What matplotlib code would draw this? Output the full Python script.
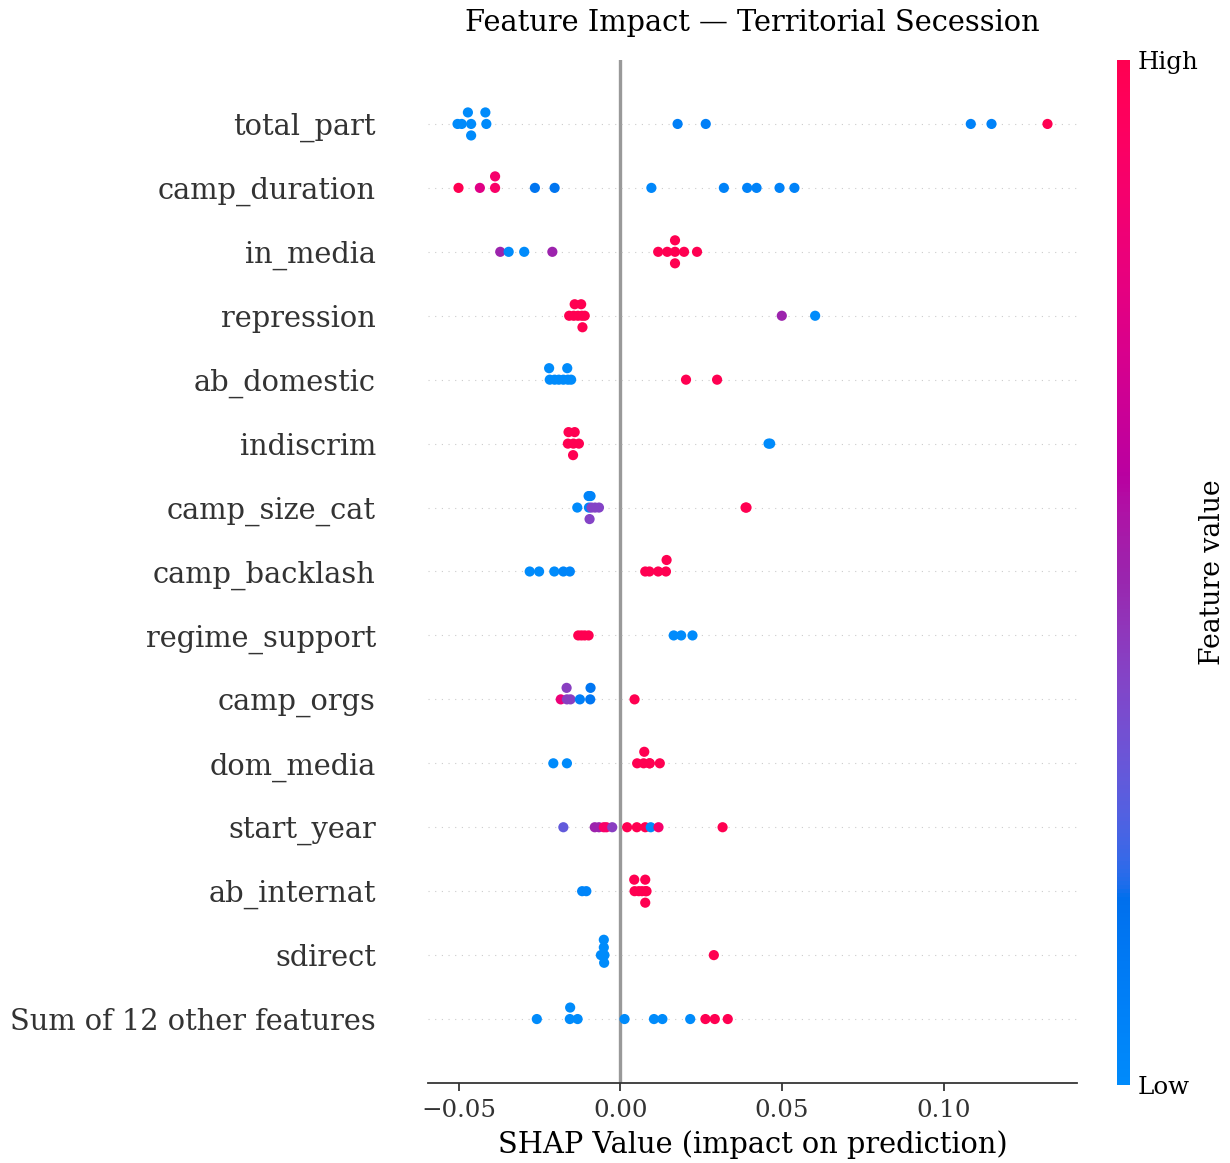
import numpy as np
import matplotlib
matplotlib.use("Agg")
import matplotlib.pyplot as plt
from matplotlib.colors import LinearSegmentedColormap

plt.rcParams["font.family"] = ["DejaVu Serif"]

# ---- data: SHAP values and normalised feature values (0 = low, 1 = high) ----
features = ["total_part", "camp_duration", "in_media", "repression", "ab_domestic",
            "indiscrim", "camp_size_cat", "camp_backlash", "regime_support", "camp_orgs",
            "dom_media", "start_year", "ab_internat", "sdirect", "Sum of 12 other features"]

total_part_shap = [-0.0503, -0.0490, -0.0461, -0.0471, -0.0461, -0.0414, -0.0417,
                   0.0177, 0.0264, 0.1083, 0.1147, 0.1320]
total_part_val = [0.0, 0.0, 0.0, 0.0, 0.0, 0.0, 0.0, 0.08, 0.08, 0.06, 0.06, 1.0]

camp_duration_shap = [-0.0500, -0.0434, -0.0387, -0.0387, -0.0264, -0.0203,
                      0.0096, 0.0320, 0.0392, 0.0421, 0.0492, 0.0538]
camp_duration_val = [1.0, 0.75, 0.9, 0.88, 0.15, 0.15, 0.03, 0.06, 0.06, 0.06, 0.06, 0.06]

in_media_shap = [-0.0371, -0.0345, -0.0297, -0.0210, 0.0117, 0.0145, 0.0169, 0.0169,
                 0.0169, 0.0197, 0.0237]
in_media_val = [0.5, 0.0, 0.0, 0.5, 1.0, 1.0, 1.0, 1.0, 1.0, 1.0, 1.0]

repression_shap = [-0.0158, -0.0144, -0.0141, -0.0131, -0.0119, -0.0121, -0.0117,
                   -0.0110, 0.0499, 0.0602]
repression_val = [1.0, 1.0, 1.0, 1.0, 1.0, 1.0, 1.0, 1.0, 0.5, 0.0]

ab_domestic_shap = [-0.0218, -0.0220, -0.0203, -0.0190, -0.0176, -0.0162, -0.0164,
                    -0.0152, 0.0203, 0.0299]
ab_domestic_val = [0.0, 0.0, 0.0, 0.0, 0.0, 0.0, 0.0, 0.0, 1.0, 1.0]

indiscrim_shap = [-0.0162, -0.0160, -0.0145, -0.0141, -0.0146, -0.0128, 0.0458, 0.0463]
indiscrim_val = [1.0, 1.0, 1.0, 1.0, 1.0, 1.0, 0.0, 0.0]

camp_size_cat_shap = [-0.0133, -0.0097, -0.0098, -0.0095, -0.0089, -0.0092, -0.0078,
                      -0.0066, 0.0387, 0.0390]
camp_size_cat_val = [0.0, 0.05, 0.05, 0.4, 0.4, 0.05, 0.4, 0.4, 1.0, 1.0]

camp_backlash_shap = [-0.0280, -0.0251, -0.0204, -0.0176, -0.0156, 0.0077, 0.0090,
                      0.0117, 0.0141, 0.0143]
camp_backlash_val = [0.0, 0.0, 0.0, 0.04, 0.04, 1.0, 1.0, 1.0, 1.0, 1.0]

regime_support_shap = [-0.0130, -0.0120, -0.0110, -0.0098, 0.0165, 0.0188, 0.0223]
regime_support_val = [1.0, 1.0, 1.0, 1.0, 0.0, 0.0, 0.0]

camp_orgs_shap = [-0.0184, -0.0165, -0.0166, -0.0154, -0.0125, -0.0093, -0.0092, 0.0044]
camp_orgs_val = [0.82, 0.42, 0.42, 0.42, 0.08, 0.14, 0.14, 1.0]

dom_media_shap = [-0.0207, -0.0165, 0.0052, 0.0072, 0.0074, 0.0090, 0.0091, 0.0122]
dom_media_val = [0.0, 0.0, 1.0, 1.0, 1.0, 1.0, 1.0, 1.0]

start_year_shap = [-0.0176, -0.0079, -0.0066, -0.0051, -0.0043, -0.0025, 0.0021,
                   0.0051, 0.0077, 0.0094, 0.0118, 0.0316]
start_year_val = [0.3, 0.5, 0.5, 0.9, 0.9, 0.42, 1.0, 1.0, 1.0, 0.0, 0.88, 1.0]

ab_internat_shap = [-0.0118, -0.0105, 0.0044, 0.0043, 0.0057, 0.0067, 0.0078, 0.0077,
                    0.0077, 0.0081]
ab_internat_val = [0.04, 0.04, 1.0, 1.0, 1.0, 1.0, 1.0, 1.0, 1.0, 1.0]

sdirect_shap = [-0.0060, -0.0049, -0.0051, -0.0050, -0.0051, 0.0289]
sdirect_val = [0.0, 0.0, 0.0, 0.0, 0.0, 1.0]

other_shap = [-0.0258, -0.0156, -0.0155, -0.0132, 0.0013, 0.0104, 0.0130, 0.0216,
              0.0263, 0.0292, 0.0332]
other_val = [0.0, 0.0, 0.0, 0.0, 0.0, 0.0, 0.0, 0.0, 1.0, 1.0, 1.0]

shap_rows = [total_part_shap, camp_duration_shap, in_media_shap, repression_shap,
             ab_domestic_shap, indiscrim_shap, camp_size_cat_shap, camp_backlash_shap,
             regime_support_shap, camp_orgs_shap, dom_media_shap, start_year_shap,
             ab_internat_shap, sdirect_shap, other_shap]
value_rows = [total_part_val, camp_duration_val, in_media_val, repression_val,
              ab_domestic_val, indiscrim_val, camp_size_cat_val, camp_backlash_val,
              regime_support_val, camp_orgs_val, dom_media_val, start_year_val,
              ab_internat_val, sdirect_val, other_val]


# ---- blue -> purple -> red colormap interpolated in LCh space ----
def lch_to_rgb(l, c, h):
    a = c * np.cos(h)
    b = c * np.sin(h)
    fy = (l + 16.0) / 116.0
    fx = fy + a / 500.0
    fz = fy - b / 200.0

    def finv(t):
        return t ** 3 if t > 6.0 / 29.0 else 3 * (6.0 / 29.0) ** 2 * (t - 4.0 / 29.0)

    xyz = np.array([0.95047 * finv(fx), finv(fy), 1.08883 * finv(fz)])
    m = np.array([[3.2406, -1.5372, -0.4986],
                  [-0.9689, 1.8758, 0.0415],
                  [0.0557, -0.2040, 1.0570]])
    lin = m @ xyz
    rgb = np.where(lin <= 0.0031308, 12.92 * lin,
                   1.055 * np.abs(lin) ** (1 / 2.4) - 0.055)
    return np.clip(rgb, 0, 1)


nsteps = 100
blue_lch = (54.0, 70.0, 4.6588)
red_lch = (54.0, 90.0, 0.35470565 + 2 * np.pi)
l_vals = list(np.linspace(blue_lch[0], 40.0, nsteps // 2)) + \
    list(np.linspace(40.0, red_lch[0], nsteps // 2))
c_vals = np.linspace(blue_lch[1], red_lch[1], nsteps)
h_vals = np.linspace(blue_lch[2], red_lch[2], nsteps)
colors = [lch_to_rgb(l, c, h) for l, c, h in zip(l_vals, c_vals, h_vals)]
red_blue = LinearSegmentedColormap.from_list("red_blue", colors)


def swarm_offsets(vals, row_height=0.4, nbins=100):
    vals = np.asarray(vals, dtype=float)
    quant = np.round(nbins * (vals - vals.min()) / (vals.max() - vals.min() + 1e-8))
    order = np.argsort(quant, kind="stable")
    ys = np.zeros(len(vals))
    layer = 0
    last_bin = -1
    for i in order:
        if quant[i] != last_bin:
            layer = 0
        ys[i] = np.ceil(layer / 2) * ((layer % 2) * 2 - 1)
        layer += 1
        last_bin = quant[i]
    ys *= 0.9 * (row_height / np.max(ys + 1))
    return ys


axis_color = "#333333"
fig = plt.figure(figsize=(1230 / 160, 1163 / 160), dpi=160)
ax = fig.add_axes([0.348, 0.0688, 0.5276, 0.8796])

n = len(features)
ax.axvline(0, color="#999999", zorder=-1)
for k, (sv, fv) in enumerate(zip(shap_rows, value_rows)):
    pos = n - 1 - k
    ax.axhline(pos, color="#cccccc", lw=0.5, dashes=(1, 5), zorder=-1)
    ys = swarm_offsets(sv)
    ax.scatter(sv, pos + ys, c=fv, cmap=red_blue, vmin=0, vmax=1, s=21,
               linewidths=0, zorder=3, rasterized=True)

ax.set_ylim(-1, n)
ax.set_yticks(range(n))
ax.set_yticklabels(list(reversed(features)), fontsize=13)
ax.tick_params("y", length=20, width=0.5, which="major")
ax.yaxis.set_ticks_position("none")
ax.xaxis.set_ticks_position("bottom")
ax.tick_params(color=axis_color, labelcolor=axis_color)
ax.tick_params("x", labelsize=11)
for side in ("right", "top", "left"):
    ax.spines[side].set_visible(False)
ax.spines["bottom"].set_color(axis_color)
ax.set_xlabel("SHAP Value (impact on prediction)", fontsize=13)
ax.set_title("Feature Impact \u2014 Territorial Secession", fontsize=13, pad=13)

cax = fig.add_axes([0.9081, 0.0671, 0.0106, 0.8813])
sm = plt.cm.ScalarMappable(cmap=red_blue, norm=plt.Normalize(0, 1))
cb = fig.colorbar(sm, cax=cax, ticks=[0, 1])
cb.set_ticklabels(["Low", "High"])
cb.set_label("Feature value", size=12, labelpad=0)
cb.ax.tick_params(labelsize=11, length=0)
cb.outline.set_visible(False)

fig.savefig("out.png", dpi=160)
